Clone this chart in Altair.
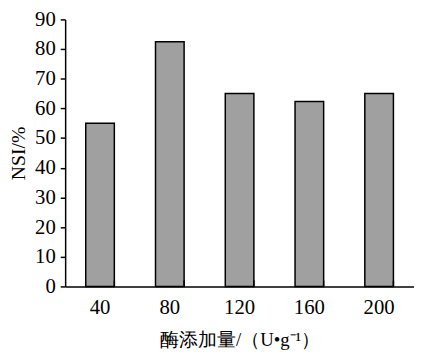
import altair as alt
import pandas as pd

categories = ["40", "80", "120", "160", "200"]
nsi = [55.0, 82.5, 65.0, 62.3, 65.0]

df = pd.DataFrame({"cat": categories, "nsi": nsi})

FONT = "Liberation Serif"

base = alt.Chart(df)

bars = base.mark_bar(fill="#a0a0a0", stroke="#000000", strokeWidth=1.5).encode(
    x=alt.X("cat:N", sort=categories,
            scale=alt.Scale(paddingInner=0.59, paddingOuter=0.295),
            axis=alt.Axis(title="酶添加量/（U•g⁻¹）", labelAngle=0, ticks=False,
                          domainColor="#000000", domainWidth=1.5,
                          labelFont=FONT, labelFontSize=21, labelColor="#000000",
                          labelPadding=10,
                          titleFont=FONT, titleFontSize=19, titleFontWeight="normal",
                          titleColor="#000000", titlePadding=14)),
    y=alt.Y("nsi:Q", scale=alt.Scale(domain=[0, 90], nice=False),
            axis=alt.Axis(title="NSI/%", values=list(range(0, 91, 10)),
                          grid=False, tickSize=5, tickColor="#000000", tickWidth=1.5,
                          domainColor="#000000", domainWidth=1.5,
                          labelFont=FONT, labelFontSize=21, labelColor="#000000",
                          labelPadding=5,
                          titleFont=FONT, titleFontSize=20, titleFontWeight="normal",
                          titleColor="#000000", titlePadding=6)),
)

ticks = base.mark_rule(color="#000000", strokeWidth=1.5).encode(
    x=alt.X("cat:N", sort=categories, bandPosition=1),
    y=alt.value(271),
    y2=alt.value(265),
)

chart = (bars + ticks).properties(
    width=354, height=271,
    autosize="none",
    padding={"left": 58, "top": 9, "right": 0, "bottom": 66},
).configure_view(stroke=None)

chart.save("out.html", embed_options={"renderer": "svg", "actions": False})
